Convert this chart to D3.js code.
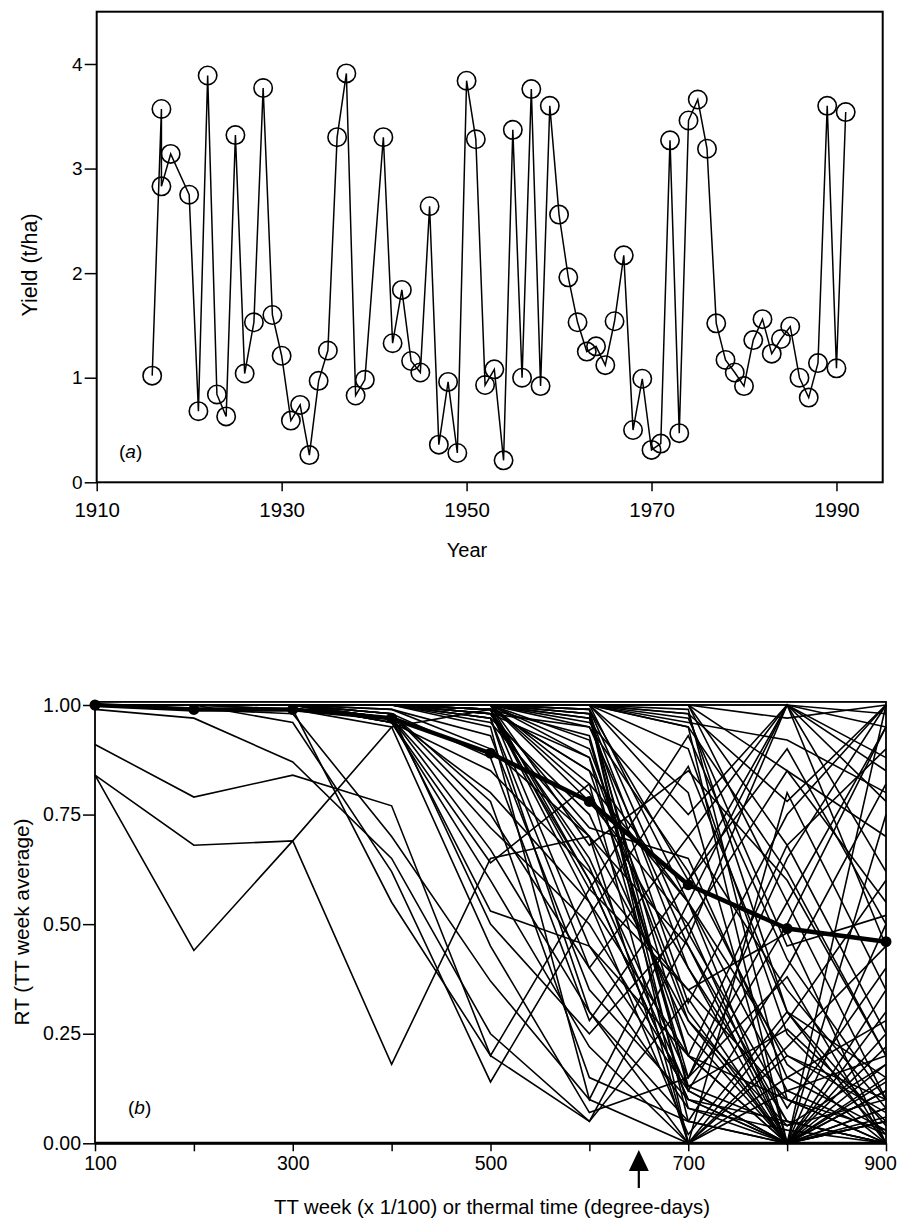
<!DOCTYPE html>
<html>
<head>
<meta charset="utf-8">
<script src="https://cdn.jsdelivr.net/npm/d3@7"></script>
<style>
  body { margin: 0; background: #fff; }
  svg { display: block; font-family: "Liberation Sans", Arial, Helvetica, sans-serif; }
  .axis path { display: none; }
  .axis line { stroke: #000; stroke-width: 1.5px; }
  .axis text { fill: #000; font-size: 19px; }
  .axisYear text { font-size: 20.5px; }
  .axisB text { font-size: 19.5px; }
</style>
</head>
<body>
<div id="chart"></div>
<script>
// ---- panel (a): yield per year ----
var years = [1916, 1917, 1917, 1918, 1920, 1921, 1922, 1923, 1924, 1925, 1926, 1927, 1928, 1929,
  1930, 1931, 1932, 1933, 1934, 1935, 1936, 1937, 1938, 1939, 1941, 1942, 1943, 1944, 1945, 1946,
  1947, 1948, 1949, 1950, 1951, 1952, 1953, 1954, 1955, 1956, 1957, 1958, 1959, 1960, 1961, 1962,
  1963, 1964, 1965, 1966, 1967, 1968, 1969, 1970, 1971, 1972, 1973, 1974, 1975, 1976, 1977, 1978,
  1979, 1980, 1981, 1982, 1983, 1984, 1985, 1986, 1987, 1988, 1989, 1990, 1991];
var yields = [1.02, 3.57, 2.83, 3.14, 2.75, 0.68, 3.89, 0.84, 0.63, 3.32, 1.04, 1.53, 3.77, 1.60,
  1.21, 0.59, 0.74, 0.26, 0.97, 1.26, 3.30, 3.91, 0.83, 0.98, 3.30, 1.33, 1.84, 1.16, 1.05, 2.64,
  0.36, 0.96, 0.28, 3.84, 3.28, 0.93, 1.08, 0.21, 3.37, 1.00, 3.76, 0.92, 3.60, 2.56, 1.96, 1.53,
  1.25, 1.30, 1.12, 1.54, 2.17, 0.50, 0.99, 0.31, 0.37, 3.27, 0.47, 3.46, 3.66, 3.19, 1.52, 1.17,
  1.05, 0.92, 1.36, 1.56, 1.23, 1.37, 1.49, 1.00, 0.81, 1.14, 3.60, 1.09, 3.54];
var yearTicks = [1910, 1930, 1950, 1970, 1990];
var yieldTicks = [0, 1, 2, 3, 4];

// ---- panel (b): RT by TT week, one line per season ----
var ttWeeks = [100, 200, 300, 400, 500, 600, 700, 800, 900];
var ttTickLabels = [100, 300, 500, 700, 900];
var rtTicks = [0, 0.25, 0.5, 0.75, 1.0];
var rtMean = [1.00, 0.99, 0.99, 0.97, 0.89, 0.78, 0.59, 0.49, 0.46];
var rtSeries = [
  [0.84, 0.44, 0.69, 0.95, 0.99, 0.63, 0.12, 0.00, 0.08],
  [0.84, 0.68, 0.69, 0.18, 0.65, 0.70, 0.28, 0.04, 0.18],
  [0.91, 0.79, 0.84, 0.77, 0.20, 0.58, 0.93, 0.42, 0.10],
  [0.99, 0.97, 0.87, 0.65, 0.25, 0.05, 0.33, 0.00, 0.14],
  [1.00, 1.00, 0.96, 0.62, 0.14, 0.52, 0.86, 0.30, 0.04],
  [1.00, 1.00, 0.99, 0.55, 0.20, 0.05, 0.47, 1.00, 0.62],
  [1.00, 0.99, 0.98, 0.70, 0.37, 0.10, 0.00, 0.22, 0.45],
  [1.00, 1.00, 1.00, 0.97, 0.67, 0.30, 0.05, 0.00, 0.12],
  [1.00, 1.00, 1.00, 0.96, 0.60, 0.22, 0.00, 0.15, 0.28],
  [1.00, 1.00, 1.00, 0.97, 0.53, 0.45, 0.12, 0.00, 0.05],
  [1.00, 1.00, 0.99, 0.95, 0.45, 0.07, 0.15, 0.55, 0.95],
  [1.00, 1.00, 1.00, 0.98, 0.75, 0.40, 0.08, 0.03, 0.00],
  [1.00, 1.00, 1.00, 0.97, 0.80, 0.55, 0.20, 0.00, 0.25],
  [1.00, 1.00, 1.00, 0.96, 0.85, 0.62, 0.35, 0.10, 0.00],
  [1.00, 1.00, 1.00, 0.98, 0.88, 0.28, 0.60, 1.00, 0.78],
  [1.00, 1.00, 1.00, 0.97, 0.72, 0.50, 0.13, 0.26, 0.05],
  [1.00, 1.00, 1.00, 0.99, 0.90, 0.70, 0.45, 0.05, 0.00],
  [1.00, 1.00, 1.00, 0.96, 0.64, 0.82, 0.55, 0.12, 0.20],
  [1.00, 1.00, 1.00, 0.98, 0.78, 0.15, 0.05, 0.40, 0.82],
  [1.00, 1.00, 1.00, 1.00, 0.98, 0.60, 0.10, 0.00, 0.08],
  [1.00, 1.00, 1.00, 1.00, 0.99, 0.55, 0.02, 0.30, 0.15],
  [1.00, 1.00, 1.00, 1.00, 0.97, 0.75, 0.25, 0.00, 0.05],
  [1.00, 1.00, 1.00, 1.00, 1.00, 0.80, 0.40, 0.05, 0.00],
  [1.00, 1.00, 1.00, 1.00, 0.98, 0.65, 0.15, 0.65, 1.00],
  [1.00, 1.00, 1.00, 1.00, 0.99, 0.85, 0.55, 0.20, 0.10],
  [1.00, 1.00, 1.00, 1.00, 1.00, 0.90, 0.30, 0.00, 0.35],
  [1.00, 1.00, 1.00, 1.00, 0.96, 0.70, 0.00, 0.12, 0.02],
  [1.00, 1.00, 1.00, 1.00, 0.99, 0.45, 0.20, 0.68, 0.90],
  [1.00, 1.00, 1.00, 1.00, 1.00, 0.95, 0.62, 0.18, 0.00],
  [1.00, 1.00, 1.00, 1.00, 0.98, 0.88, 0.08, 0.00, 0.22],
  [1.00, 1.00, 1.00, 1.00, 0.97, 0.40, 0.70, 1.00, 0.98],
  [1.00, 1.00, 1.00, 1.00, 1.00, 0.78, 0.50, 0.85, 0.55],
  [1.00, 1.00, 1.00, 1.00, 0.99, 0.93, 0.13, 0.04, 0.10],
  [1.00, 1.00, 1.00, 1.00, 1.00, 0.68, 0.85, 0.60, 0.20],
  [1.00, 1.00, 1.00, 1.00, 0.98, 0.95, 0.45, 0.00, 0.06],
  [1.00, 1.00, 1.00, 1.00, 0.99, 0.58, 0.35, 0.48, 0.00],
  [1.00, 1.00, 1.00, 1.00, 1.00, 0.82, 0.00, 0.28, 0.60],
  [1.00, 1.00, 1.00, 1.00, 1.00, 0.98, 0.40, 0.00, 0.05],
  [1.00, 1.00, 1.00, 1.00, 1.00, 0.97, 0.20, 0.10, 0.00],
  [1.00, 1.00, 1.00, 1.00, 1.00, 1.00, 0.55, 0.00, 0.18],
  [1.00, 1.00, 1.00, 1.00, 1.00, 0.99, 0.12, 0.50, 0.95],
  [1.00, 1.00, 1.00, 1.00, 1.00, 0.96, 0.70, 0.35, 0.08],
  [1.00, 1.00, 1.00, 1.00, 1.00, 1.00, 0.80, 0.00, 0.30],
  [1.00, 1.00, 1.00, 1.00, 1.00, 0.98, 0.05, 0.00, 0.12],
  [1.00, 1.00, 1.00, 1.00, 1.00, 0.99, 0.60, 0.90, 0.50],
  [1.00, 1.00, 1.00, 1.00, 1.00, 1.00, 0.90, 0.25, 0.02],
  [1.00, 1.00, 1.00, 1.00, 1.00, 0.97, 0.32, 0.75, 1.00],
  [1.00, 1.00, 1.00, 1.00, 1.00, 1.00, 0.95, 0.62, 0.20],
  [1.00, 1.00, 1.00, 1.00, 1.00, 0.99, 0.48, 0.08, 0.40],
  [1.00, 1.00, 1.00, 1.00, 1.00, 0.98, 0.00, 0.20, 0.07],
  [1.00, 1.00, 1.00, 1.00, 1.00, 1.00, 0.75, 1.00, 0.85],
  [1.00, 1.00, 1.00, 1.00, 1.00, 1.00, 0.98, 0.30, 0.00],
  [1.00, 1.00, 1.00, 1.00, 1.00, 1.00, 0.95, 0.00, 0.15],
  [1.00, 1.00, 1.00, 1.00, 1.00, 1.00, 1.00, 0.68, 0.25],
  [1.00, 1.00, 1.00, 1.00, 1.00, 1.00, 0.97, 0.45, 0.52],
  [1.00, 1.00, 1.00, 1.00, 1.00, 1.00, 1.00, 0.85, 0.70],
  [1.00, 1.00, 1.00, 1.00, 1.00, 1.00, 0.99, 0.10, 0.03],
  [1.00, 1.00, 1.00, 1.00, 1.00, 1.00, 1.00, 1.00, 0.45],
  [1.00, 1.00, 1.00, 1.00, 1.00, 1.00, 0.98, 0.78, 1.00],
  [1.00, 1.00, 1.00, 1.00, 1.00, 1.00, 1.00, 0.55, 0.10],
  [1.00, 1.00, 1.00, 1.00, 1.00, 1.00, 0.96, 0.92, 0.80],
  [1.00, 1.00, 1.00, 1.00, 1.00, 1.00, 1.00, 1.00, 0.95],
  [1.00, 1.00, 1.00, 1.00, 1.00, 1.00, 1.00, 0.97, 1.00],
  [1.00, 1.00, 1.00, 1.00, 0.95, 0.10, 0.55, 1.00, 0.88],
  [1.00, 1.00, 1.00, 0.98, 0.50, 0.25, 0.50, 0.00, 1.00],
  [1.00, 1.00, 1.00, 1.00, 0.97, 0.30, 0.00, 0.80, 0.35],
  [1.00, 1.00, 1.00, 1.00, 1.00, 0.60, 0.10, 0.00, 0.75],
  [1.00, 1.00, 1.00, 1.00, 0.99, 0.85, 0.20, 0.00, 0.50],
  [1.00, 1.00, 1.00, 1.00, 1.00, 0.92, 0.15, 0.38, 0.00],
  [1.00, 1.00, 1.00, 1.00, 0.98, 0.72, 0.65, 0.15, 0.03],
  [1.00, 1.00, 1.00, 0.99, 0.93, 0.35, 0.10, 0.05, 0.00],
  [1.00, 1.00, 1.00, 1.00, 1.00, 0.88, 0.28, 0.00, 0.00]
];
var arrowAt = 650;

var svg = d3.select("#chart").append("svg")
    .attr("width", 900)
    .attr("height", 1223);

// ===== panel (a) =====
var xA = d3.scaleLinear().domain([1910, 1995]).range([96.7, 882.7]);
var yA = d3.scaleLinear().domain([0, 4.5]).range([482.3, 11.7]);

svg.append("g")
    .attr("class", "axis")
    .attr("transform", "translate(" + xA.range()[0] + ",0)")
    .call(d3.axisLeft(yA).tickValues(yieldTicks).tickSize(12).tickPadding(2).tickFormat(d3.format("d")));

svg.append("g")
    .attr("class", "axis axisYear")
    .attr("transform", "translate(0," + yA.range()[0] + ")")
    .call(d3.axisBottom(xA).tickValues(yearTicks).tickSize(9).tickPadding(11).tickFormat(d3.format("d")));

svg.append("rect")
    .attr("x", xA.range()[0])
    .attr("y", yA.range()[1])
    .attr("width", xA.range()[1] - xA.range()[0])
    .attr("height", yA.range()[0] - yA.range()[1])
    .attr("fill", "none")
    .attr("stroke", "#000")
    .attr("stroke-width", 2);

var pts = years.map(function(y, i) { return [y, yields[i]]; });

svg.append("path")
    .datum(pts)
    .attr("fill", "none")
    .attr("stroke", "#000")
    .attr("stroke-width", 1.5)
    .attr("d", d3.line()
        .x(function(d) { return xA(d[0]); })
        .y(function(d) { return yA(d[1]); }));

svg.selectAll(".yieldPt")
    .data(pts)
    .enter()
    .append("circle")
    .attr("class", "yieldPt")
    .attr("cx", function(d) { return xA(d[0]); })
    .attr("cy", function(d) { return yA(d[1]); })
    .attr("r", 9.2)
    .attr("fill", "none")
    .attr("stroke", "#000")
    .attr("stroke-width", 1.6);

svg.append("text")
    .attr("x", 119).attr("y", 458)
    .attr("font-size", 19)
    .html('(<tspan font-style="italic">a</tspan>)');

svg.append("text")
    .attr("transform", "translate(37,265) rotate(-90)")
    .attr("text-anchor", "middle")
    .attr("font-size", 21.5)
    .text("Yield (t/ha)");

svg.append("text")
    .attr("x", 467).attr("y", 557)
    .attr("text-anchor", "middle")
    .attr("font-size", 20)
    .text("Year");

// ===== panel (b) =====
var xB = d3.scaleLinear().domain([100, 900]).range([95, 886]);
var yB = d3.scaleLinear().domain([0, 1]).range([1143.3, 705]);

svg.append("g")
    .attr("class", "axis axisB")
    .attr("transform", "translate(" + xB.range()[0] + ",0)")
    .call(d3.axisLeft(yB).tickValues(rtTicks).tickSize(12).tickPadding(2).tickFormat(d3.format(".2f")));

var xAxisB = svg.append("g")
    .attr("class", "axis axisB")
    .attr("transform", "translate(0," + yB.range()[0] + ")")
    .call(d3.axisBottom(xB).tickValues(ttWeeks).tickSize(8).tickPadding(5)
        .tickFormat(function(d) { return ttTickLabels.indexOf(d) >= 0 ? d : ""; }));

// end labels sit inside the frame edges, as in the print
xAxisB.selectAll(".tick text")
    .attr("dx", function(d) { return d === 100 ? 5 : (d === 900 ? -6 : 0); });

var lineB = d3.line()
    .x(function(d, i) { return xB(ttWeeks[i]); })
    .y(function(d) { return yB(d); });

svg.selectAll(".rt")
    .data(rtSeries)
    .enter()
    .append("path")
    .attr("class", "rt")
    .attr("fill", "none")
    .attr("stroke", "#000")
    .attr("stroke-width", 1.6)
    .attr("d", lineB);

svg.append("path")
    .datum(rtMean)
    .attr("fill", "none")
    .attr("stroke", "#000")
    .attr("stroke-width", 4.5)
    .attr("d", lineB);

svg.selectAll(".meanPt")
    .data(rtMean)
    .enter()
    .append("circle")
    .attr("cx", function(d, i) { return xB(ttWeeks[i]); })
    .attr("cy", function(d) { return yB(d); })
    .attr("r", 5.5)
    .attr("fill", "#000");

// frame, with a heavier bottom axis line
svg.append("rect")
    .attr("x", xB.range()[0])
    .attr("y", yB(1.007))
    .attr("width", xB.range()[1] - xB.range()[0])
    .attr("height", yB(0) - yB(1.007))
    .attr("fill", "none")
    .attr("stroke", "#000")
    .attr("stroke-width", 1.8);
svg.append("line")
    .attr("x1", xB.range()[0]).attr("x2", xB.range()[1])
    .attr("y1", yB(0)).attr("y2", yB(0))
    .attr("stroke", "#000").attr("stroke-width", 3);

svg.append("text")
    .attr("x", 128).attr("y", 1114)
    .attr("font-size", 19)
    .html('(<tspan font-style="italic">b</tspan>)');

svg.append("text")
    .attr("transform", "translate(29,922) rotate(-90)")
    .attr("text-anchor", "middle")
    .attr("font-size", 20.8)
    .text("RT (TT week average)");

svg.append("text")
    .attr("x", 492).attr("y", 1214)
    .attr("text-anchor", "middle")
    .attr("font-size", 20.3)
    .text("TT week (x 1/100) or thermal time (degree-days)");

// arrow marking TT 650
var ax = xB(arrowAt);
svg.append("path")
    .attr("d", "M" + ax + ",1150 L" + (ax - 10) + ",1171 L" + (ax + 10) + ",1171 Z")
    .attr("fill", "#000");
svg.append("line")
    .attr("x1", ax).attr("x2", ax)
    .attr("y1", 1170).attr("y2", 1188)
    .attr("stroke", "#000").attr("stroke-width", 2.2);
</script>
</body>
</html>
